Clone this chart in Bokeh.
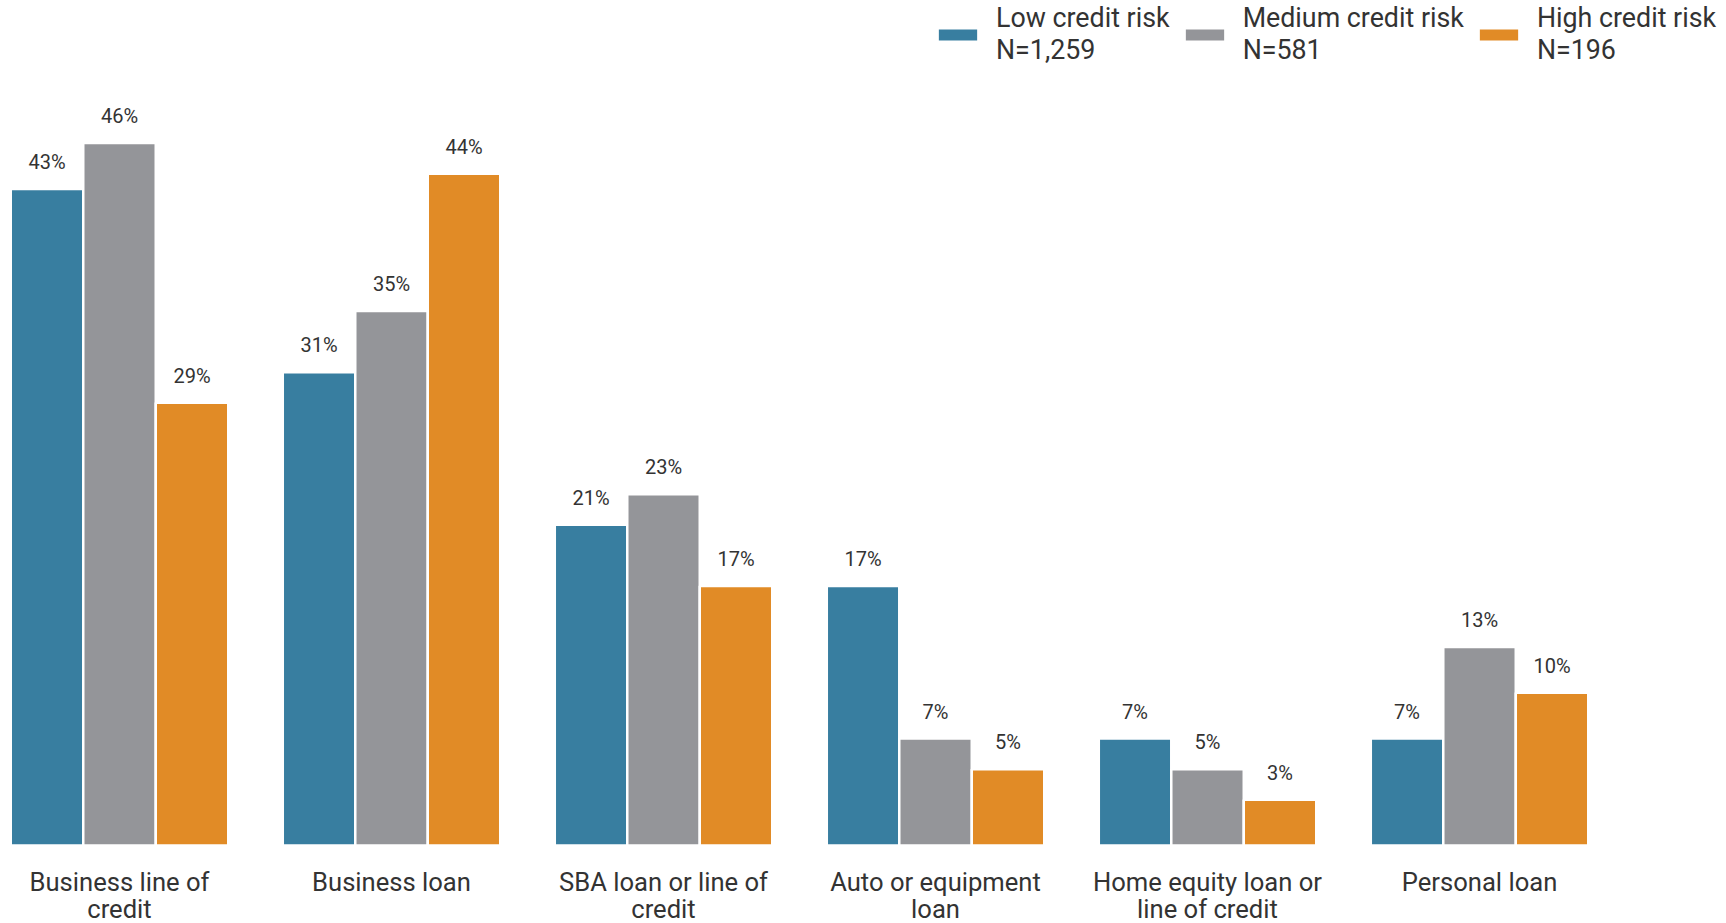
from bokeh.plotting import figure
from bokeh.models import ColumnDataSource, Range1d, Legend, LegendItem
from bokeh.transform import dodge
from bokeh.core.properties import value
from bokeh.embed import file_html
from bokeh.resources import INLINE

# ---- data ----
categories = ["Business line of credit", "Business loan", "SBA loan or line of credit",
              "Auto or equipment loan", "Home equity loan or line of credit", "Personal loan"]
tick_labels = ["Business line of\ncredit", "Business loan", "SBA loan or line of\ncredit",
               "Auto or equipment\nloan", "Home equity loan or\nline of credit", "Personal loan"]
series_names = ["Low credit risk", "Medium credit risk", "High credit risk"]
series_n = ["N=1,259", "N=581", "N=196"]
low = [43, 31, 21, 17, 7, 7]
medium = [46, 35, 23, 7, 5, 13]
high = [29, 44, 17, 5, 3, 10]
colors = ["#387EA0", "#949599", "#E18B26"]

FONT = "Roboto"
TEXT_COLOR = "#333333"

p = figure(width=1726, height=923, output_backend="svg", toolbar_location=None,
           x_range=Range1d(-0.4375, 5.908), y_range=Range1d(-5.108, 55.34),
           min_border=0)
p.min_border_left = 0
p.min_border_right = 0
p.min_border_top = 0
p.min_border_bottom = 0
p.axis.visible = False
p.grid.visible = False
p.outline_line_color = None
p.background_fill_color = "white"

group_x = list(range(len(categories)))
bar_w = 0.2665
offsets = [-bar_w, 0.0, bar_w]

items = []
for name, n, vals, off, col in zip(series_names, series_n, [low, medium, high], offsets, colors):
    src = ColumnDataSource(dict(g=group_x, top=vals, label=[f"{v}%" for v in vals]))
    r = p.vbar(x=dodge("g", off), top="top", bottom=0, width=bar_w, source=src,
               fill_color=col, line_color="white", line_width=2.5)
    p.text(x=dodge("g", off), y="top", text="label", source=src,
           text_align="center", text_baseline="alphabetic", y_offset=-27,
           text_font=value(FONT), text_font_size="20px", text_color=TEXT_COLOR)
    items.append(LegendItem(label=f"{name}\n{n}", renderers=[r]))

cat_src = ColumnDataSource(dict(x=group_x, y=[0] * len(group_x), label=tick_labels))
p.text(x="x", y="y", text="label", source=cat_src, text_align="center",
       text_baseline="top", y_offset=21, text_line_height=0.9,
       text_font=value(FONT), text_font_size="25.6px", text_color=TEXT_COLOR)

legend = Legend(items=items, orientation="horizontal", location=(932, 857),
                glyph_width=51, glyph_height=17, label_standoff=13, spacing=9,
                padding=0, margin=0, border_line_color=None, background_fill_alpha=0,
                label_text_font=FONT, label_text_font_size="26.8px",
                label_text_color=TEXT_COLOR, label_text_line_height=0.95)
p.add_layout(legend)

open("out.html", "w").write(file_html(p, INLINE))
